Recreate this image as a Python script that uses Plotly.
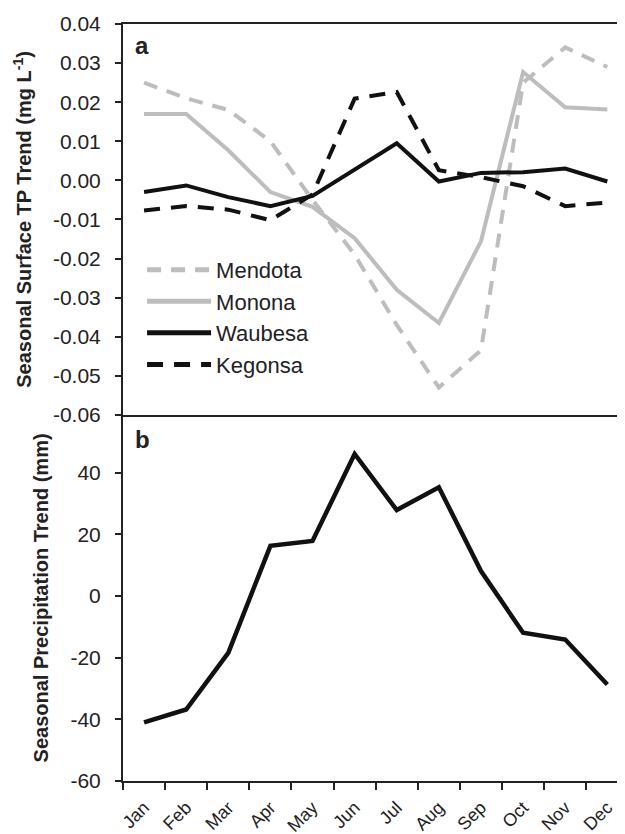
import plotly.graph_objects as go
from plotly.subplots import make_subplots

months = ["Jan", "Feb", "Mar", "Apr", "May", "Jun", "Jul", "Aug", "Sep", "Oct", "Nov", "Dec"]

mendota = [0.025, 0.021, 0.018, 0.010, -0.005, -0.019, -0.037, -0.053, -0.0435, 0.025, 0.034, 0.029]
monona = [0.017, 0.017, 0.0077, -0.003, -0.0068, -0.0148, -0.028, -0.0365, -0.0156, 0.0277, 0.0187, 0.0181]
waubesa = [-0.003, -0.0013, -0.0043, -0.0066, -0.0040, 0.0026, 0.0095, -0.0003, 0.0019, 0.0021, 0.003, -0.0003]
kegonsa = [-0.0077, -0.0066, -0.0075, -0.0102, -0.0036, 0.0209, 0.0226, 0.0026, 0.0008, -0.0015, -0.0066, -0.0057]

precip = [-41, -36.8, -18.4, 16.3, 17.9, 46.1, 27.9, 35.3, 8.1, -11.9, -14.1, -28.7]

tp_ticks = [0.04, 0.03, 0.02, 0.01, 0.0, -0.01, -0.02, -0.03, -0.04, -0.05, -0.06]
pr_ticks = [40, 20, 0, -20, -40, -60]

GRAY = "#bdbdbd"
BLACK = "#111111"
TXT = "#222222"
FONT = "Liberation Sans, Arial, sans-serif"

fig = make_subplots(rows=2, cols=1, shared_xaxes=True, vertical_spacing=0,
                    row_heights=[0.5163, 0.4837])

series = [
    ("Mendota", mendota, GRAY, "14px,10px"),
    ("Monona", monona, GRAY, "solid"),
    ("Waubesa", waubesa, BLACK, "solid"),
    ("Kegonsa", kegonsa, BLACK, "16px,11px"),
]
for name, vals, col, dash in series:
    fig.add_trace(go.Scatter(x=months, y=vals, mode="lines", name=name,
                             line=dict(color=col, width=4, dash=dash)), row=1, col=1)

fig.add_trace(go.Scatter(x=months, y=precip, mode="lines", showlegend=False,
                         line=dict(color=BLACK, width=4.5)), row=2, col=1)

# page body has an 8px margin, so the figure is sized/offset to compensate
fig.update_layout(
    width=617, height=826,
    margin=dict(l=115, r=0, t=16, b=53),
    paper_bgcolor="white", plot_bgcolor="white",
    font=dict(family=FONT, color=TXT, size=18),
    legend=dict(x=0.038, y=0.703, xanchor="left", yanchor="top",
                font=dict(size=22, color=TXT), itemwidth=64,
                bgcolor="rgba(0,0,0,0)", tracegroupgap=0, itemsizing="constant"),
    showlegend=True,
)

common_x = dict(type="category", categoryorder="array", categoryarray=months,
                range=[-0.5, 11.42], showgrid=False, zeroline=False,
                linecolor=TXT, linewidth=2, automargin=False)
fig.update_xaxes(**common_x)
fig.update_xaxes(showline=True, mirror=True, ticks="", showticklabels=False, row=1, col=1)
fig.update_xaxes(showline=True, ticks="outside", ticklen=7, tickwidth=1.5, tickcolor=TXT,
                 tickson="boundaries", tickangle=-45, ticklabelstandoff=7,
                 tickfont=dict(size=18, color=TXT), row=2, col=1)

ycommon = dict(showgrid=False, zeroline=False, showline=True, linecolor=TXT, linewidth=2,
               ticks="outside", ticklen=6, tickwidth=1.5, tickcolor=TXT,
               tickfont=dict(size=21, color=TXT), ticklabelstandoff=10, automargin=False)
fig.update_yaxes(range=[-0.06, 0.04], tickvals=tp_ticks,
                 ticktext=[f"{v:.2f}".replace("-0.00", "0.00") for v in tp_ticks],
                 title=dict(text="<b>Seasonal Surface TP Trend (mg L<sup>-1</sup>)</b>",
                            font=dict(size=20, color=TXT), standoff=16),
                 row=1, col=1, **ycommon)
fig.update_yaxes(range=[-60, 58.8], tickvals=pr_ticks,
                 ticktext=[str(v) for v in pr_ticks],
                 title=dict(text="<b>Seasonal Precipitation Trend (mm)</b>",
                            font=dict(size=20, color=TXT), standoff=16),
                 row=2, col=1, **ycommon)

fig.add_annotation(text="<b>a</b>", xref="x domain", yref="y domain", x=0.02, y=0.985,
                   xanchor="left", yanchor="top", showarrow=False,
                   font=dict(size=24, color=TXT))
fig.add_annotation(text="<b>b</b>", xref="x2 domain", yref="y2 domain", x=0.02, y=0.975,
                   xanchor="left", yanchor="top", showarrow=False,
                   font=dict(size=24, color=TXT))

fig.write_html("out.html")
